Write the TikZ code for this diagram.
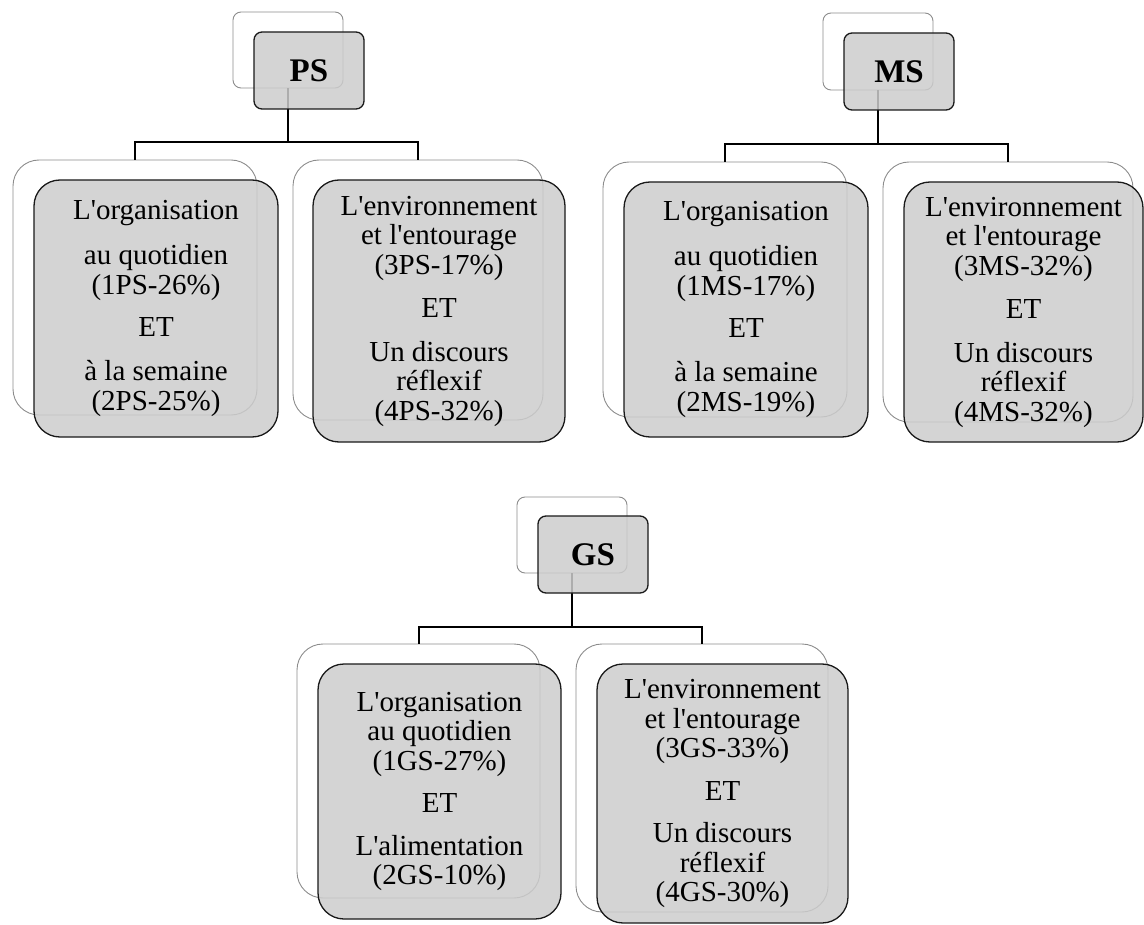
\documentclass[tikz,border=0pt]{standalone}
\usepackage{fontspec}
\setmainfont{Liberation Serif}[Ligatures=TeXOff]
\usepackage{tikz}
\usetikzlibrary{positioning}

\begin{document}
\begin{tikzpicture}[x=1pt, y=-1pt, on grid,
        back/.style={draw=black!45, line width=0.9pt, rounded corners=8pt, inner sep=0pt},
        front/.style={draw=black!90, line width=1.3pt, rounded corners=8pt, fill=black!20,
            fill opacity=0.85, text opacity=1, inner sep=0pt, align=center},
        head/.style={font=\fontsize{33}{33}\selectfont\bfseries},
        item/.style={rounded corners=26pt, font=\fontsize{29}{29.5}\selectfont},
        link/.style={line width=2pt}]
        \useasboundingbox (0,0) rectangle (1144,925);

        % outline boxes behind
        \node[back, minimum width=110pt, minimum height=76pt] (psb) at (288,50) {};
        \node[back, minimum width=110pt, minimum height=77pt] (msb) at (878,51.5) {};
        \node[back, minimum width=110pt, minimum height=76pt] (gsb) at (572,535) {};

        \node[back, item, minimum width=244pt, minimum height=255pt] (ps1b) at (135,287.5) {};
        \node[back, item, minimum width=250pt, minimum height=260pt] (ps2b) at (418,290) {};
        \node[back, item, minimum width=244pt, minimum height=255pt] (ms1b) at (725,289.5) {};
        \node[back, item, minimum width=250pt, minimum height=260pt] (ms2b) at (1008,292) {};
        \node[back, item, minimum width=243pt, minimum height=254pt] (gs1b) at (418.5,771) {};
        \node[back, item, minimum width=252pt, minimum height=268pt] (gs2b) at (702,778) {};

        % connectors
        \foreach \g in {ps,ms,gs} {
            \draw[link] (\g b.south) -- ++(0,54) -| (\g 1b.north);
            \draw[link] (\g b.south) -- ++(0,54) -| (\g 2b.north);
        }

        % grey boxes in front
        \node[front, head, minimum width=110pt, minimum height=77pt] (psf) [below right=20.5pt and 21pt of psb] {PS};
        \node[front, head, minimum width=110pt, minimum height=77pt] (msf) [below right=20pt and 21pt of msb] {MS};
        \node[front, head, minimum width=110pt, minimum height=77pt] (gsf) [below right=19.5pt and 21pt of gsb] {GS};

        \node[front, item, minimum width=244pt, minimum height=257pt] (ps1f) [below right=21pt and 21pt of ps1b]
            {L'organisation\\[15.5pt] au quotidien\\ (1PS-26\%)\\[13pt] ET\\[14.5pt] à la semaine\\ (2PS-25\%)};
        \node[front, item, minimum width=252pt, minimum height=262pt] (ps2f) [below right=21pt and 21pt of ps2b]
            {L'environnement\\ et l'entourage\\ (3PS-17\%)\\[14pt] ET\\[14pt] Un discours\\ réflexif\\ (4PS-32\%)};
        \node[front, item, minimum width=244pt, minimum height=255pt] (ms1f) [below right=20pt and 21pt of ms1b]
            {L'organisation\\[15.5pt] au quotidien\\ (1MS-17\%)\\[13pt] ET\\[14.5pt] à la semaine\\ (2MS-19\%)};
        \node[front, item, minimum width=239pt, minimum height=260pt] (ms2f) [below right=20pt and 15.5pt of ms2b]
            {L'environnement\\ et l'entourage\\ (3MS-32\%)\\[14pt] ET\\[14pt] Un discours\\ réflexif\\ (4MS-32\%)};
        \node[front, item, minimum width=243pt, minimum height=255pt] (gs1f) [below right=20.5pt and 21pt of gs1b]
            {L'organisation\\ au quotidien\\ (1GS-27\%)\\[13pt] ET\\[13pt] L'alimentation\\ (2GS-10\%)};
        \node[front, item, minimum width=251pt, minimum height=259pt] (gs2f) [below right=15.5pt and 20.5pt of gs2b]
            {L'environnement\\ et l'entourage\\ (3GS-33\%)\\[13pt] ET\\[13pt] Un discours\\ réflexif\\ (4GS-30\%)};
\end{tikzpicture}
\end{document}
